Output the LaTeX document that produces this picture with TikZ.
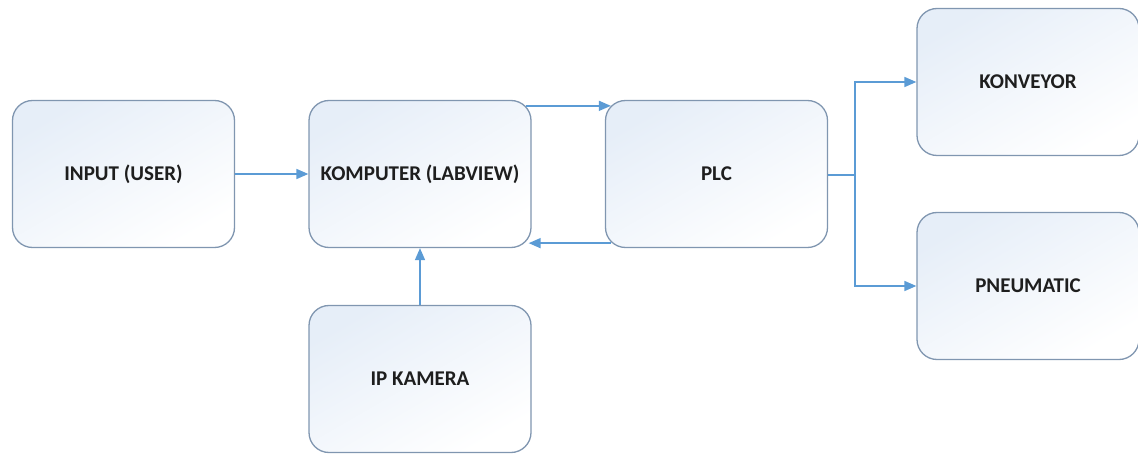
\documentclass[tikz,border=0pt]{standalone}
\usepackage{fontspec}
\setmainfont{Carlito}
\usetikzlibrary{arrows.meta}
\definecolor{boxline}{RGB}{128,150,176}
\definecolor{boxtop}{RGB}{230,238,248}
\definecolor{arrowc}{RGB}{91,155,213}
\definecolor{txt}{RGB}{30,30,30}
\tikzset{
  blk/.style={draw=boxline, line width=1.3pt, rounded corners=20pt,
    minimum width=222pt, minimum height=147pt, inner sep=0pt,
    shading=axis, top color=boxtop, bottom color=white, shading angle=30,
    font=\fontsize{21}{24}\selectfont\bfseries, text=txt},
  conn/.style={draw=arrowc, line width=1.6pt},
  arr/.style={conn, -{Triangle[length=12pt,width=10pt]}}
}
\begin{document}
\begin{tikzpicture}[x=1pt,y=-1pt]
\useasboundingbox (0,0) rectangle (1138,454);
\node[blk] (inp) at (123.5,174) {INPUT (USER)};
\node[blk] (komp) at (420,174) {KOMPUTER (LABVIEW)};
\node[blk] (plc) at (716.5,174) {PLC};
\node[blk] (konv) at (1028,82) {KONVEYOR};
\node[blk] (pneu) at (1028,286) {PNEUMATIC};
\node[blk] (cam) at (420,379) {IP KAMERA};
\coordinate (br) at (855,175);
\draw[arr] (inp.east) -- (komp.west);
\draw[arr] ([xshift=-6pt,yshift=-6pt]komp.north east) -- ([xshift=6pt,yshift=-6pt]plc.north west);
\draw[arr] ([xshift=6pt,yshift=5pt]plc.south west) -- ([xshift=-3pt,yshift=5pt]komp.south east);
\draw[arr] (cam.north) -- (komp.south);
\draw[conn] (plc.east |- br) -- (br);
\draw[arr] (br) |- (konv.west);
\draw[arr] (br) |- (pneu.west);
\end{tikzpicture}
\end{document}
